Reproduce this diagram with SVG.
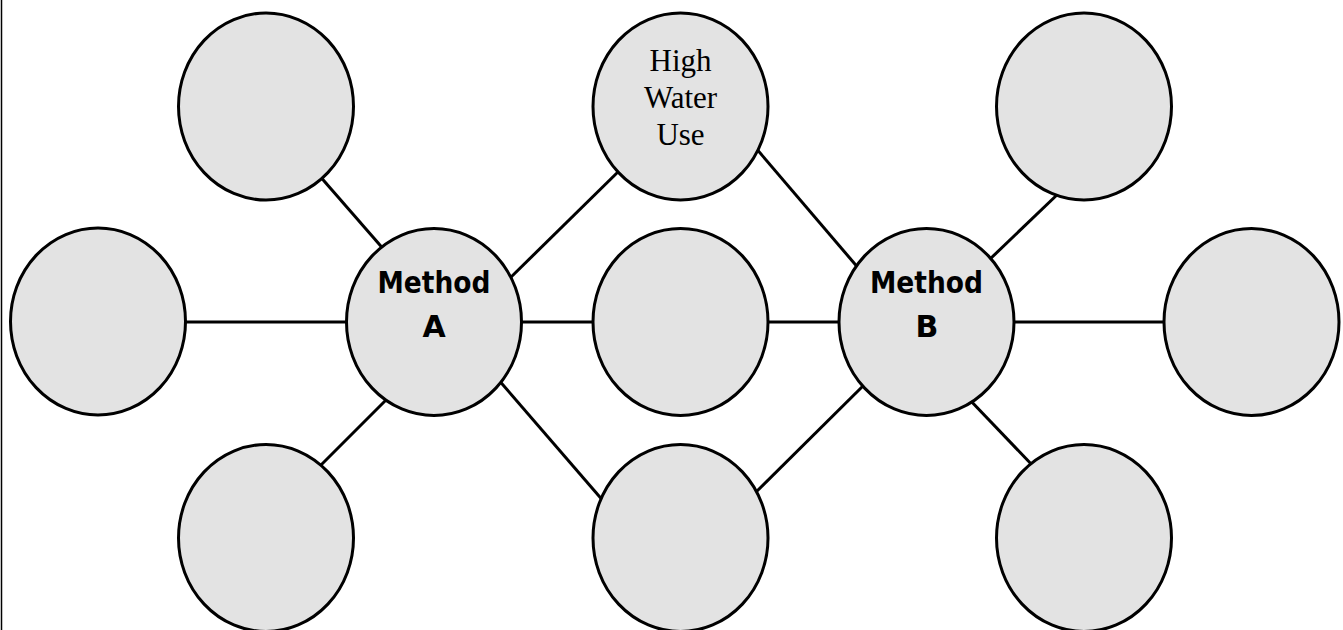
<svg xmlns="http://www.w3.org/2000/svg" width="1343" height="630" viewBox="0 0 1343 630">
  <style>
    .node { fill: #e3e3e3; stroke: #000; stroke-width: 3; }
    .conn { stroke: #000; stroke-width: 3; fill: none; stroke-linecap: butt; }
    .method { font-family: "Comic Sans MS", "DejaVu Sans", sans-serif; font-weight: bold; font-size: 30px; text-anchor: middle; fill: #000; }
    .serif { font-family: "Liberation Serif", "Times New Roman", serif; font-size: 31px; text-anchor: middle; fill: #000; }
  </style>
  <rect x="0" y="0" width="1343" height="630" fill="#ffffff"/>
  <line x1="1.5" y1="0" x2="1.5" y2="630" stroke="#000" stroke-width="1.5"/>
  <g id="connectors">
    <line class="conn" x1="180" y1="322" x2="352" y2="322"/>
    <line class="conn" x1="516" y1="322" x2="600" y2="322"/>
    <line class="conn" x1="761" y1="322" x2="845" y2="322"/>
    <line class="conn" x1="1008" y1="322" x2="1170" y2="322"/>
    <line class="conn" x1="318" y1="174" x2="386" y2="252"/>
    <line class="conn" x1="507" y1="281" x2="622" y2="168"/>
    <line class="conn" x1="497" y1="378" x2="605" y2="503"/>
    <line class="conn" x1="388" y1="398" x2="318" y2="468"/>
    <line class="conn" x1="755" y1="147" x2="860" y2="270"/>
    <line class="conn" x1="1060" y1="192" x2="988" y2="261"/>
    <line class="conn" x1="867" y1="382" x2="753" y2="495"/>
    <line class="conn" x1="968" y1="398" x2="1035" y2="468"/>
  </g>
  <g id="node-top-left"><ellipse class="node" cx="266" cy="106.5" rx="87.5" ry="93.5"/></g>
  <g id="node-high-water-use">
    <ellipse class="node" cx="680.5" cy="106.5" rx="87.5" ry="93.5"/>
    <text class="serif" x="680.5" y="71">High</text>
    <text class="serif" x="680.5" y="108">Water</text>
    <text class="serif" x="680.5" y="145">Use</text>
  </g>
  <g id="node-top-right"><ellipse class="node" cx="1084" cy="106.5" rx="87.5" ry="93.5"/></g>
  <g id="node-left"><ellipse class="node" cx="98" cy="321.5" rx="87.5" ry="93.5"/></g>
  <g id="node-method-a">
    <ellipse class="node" cx="434" cy="322" rx="87.5" ry="93.5"/>
    <text class="method" x="434" y="293" textLength="113" lengthAdjust="spacingAndGlyphs">Method</text>
    <text class="method" x="434" y="337">A</text>
  </g>
  <g id="node-middle"><ellipse class="node" cx="680.5" cy="322" rx="87.5" ry="93.5"/></g>
  <g id="node-method-b">
    <ellipse class="node" cx="926.5" cy="322" rx="87.5" ry="93.5"/>
    <text class="method" x="926.5" y="293" textLength="113" lengthAdjust="spacingAndGlyphs">Method</text>
    <text class="method" x="927" y="337">B</text>
  </g>
  <g id="node-right"><ellipse class="node" cx="1251.5" cy="322" rx="87.5" ry="93.5"/></g>
  <g id="node-bottom-left"><ellipse class="node" cx="266" cy="538" rx="87.5" ry="93.5"/></g>
  <g id="node-bottom-middle"><ellipse class="node" cx="680.5" cy="538" rx="87.5" ry="93.5"/></g>
  <g id="node-bottom-right"><ellipse class="node" cx="1084" cy="538" rx="87.5" ry="93.5"/></g>
</svg>
